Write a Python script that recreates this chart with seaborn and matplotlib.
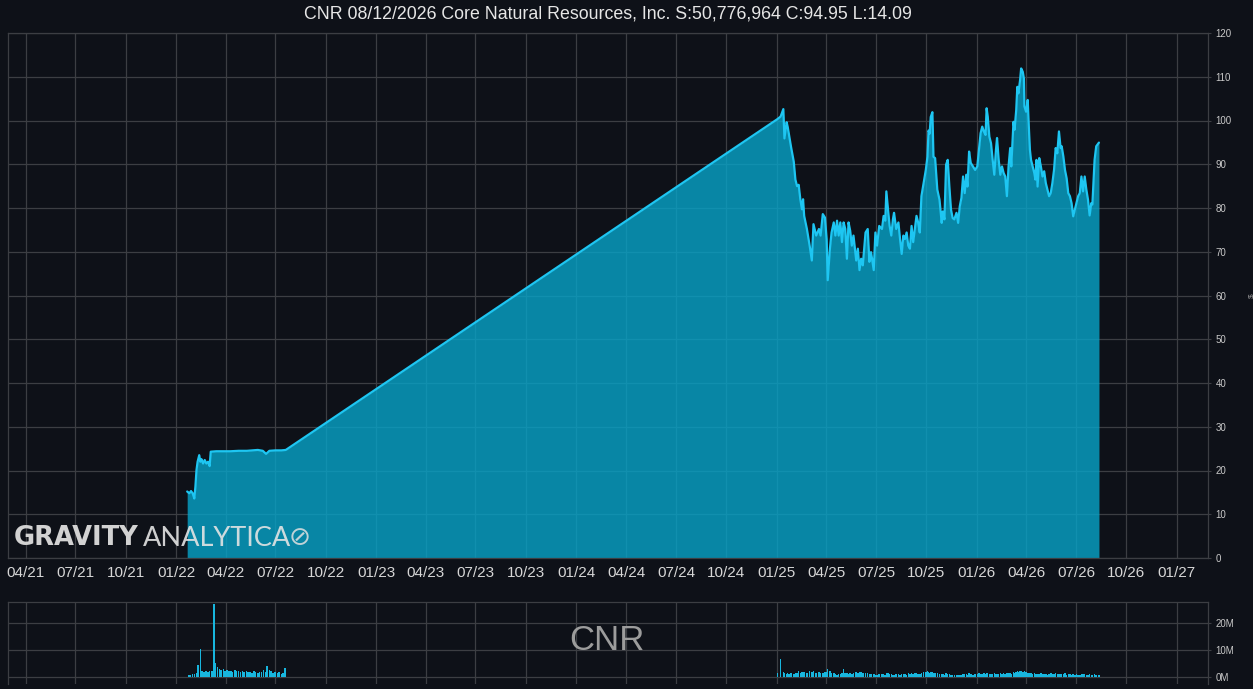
import matplotlib
matplotlib.use("Agg")
import matplotlib.pyplot as plt
import matplotlib.dates as mdates
import numpy as np
import pandas as pd
import seaborn as sns

# ---------------- data ----------------
seg1_dates = ["2022-01-21", "2022-01-25", "2022-01-28", "2022-01-31", "2022-02-03", "2022-02-05",
              "2022-02-07", "2022-02-09", "2022-02-12", "2022-02-14", "2022-02-16", "2022-02-19",
              "2022-02-22", "2022-02-25", "2022-02-28", "2022-03-03", "2022-03-05", "2022-03-15",
              "2022-03-28", "2022-04-10", "2022-04-25", "2022-05-10", "2022-05-20", "2022-05-30",
              "2022-06-08", "2022-06-14", "2022-06-20", "2022-07-01", "2022-07-12", "2022-07-20"]
seg1_price = [15.2, 14.8, 15.3, 14.8, 13.6, 16.3, 20.1, 22.0, 23.5, 22.0, 22.6, 21.6,
              22.4, 21.6, 22.0, 21.0, 24.3, 24.4, 24.4, 24.4, 24.5, 24.5, 24.6, 24.7,
              24.5, 23.8, 24.5, 24.6, 24.6, 24.7]

seg2_dates = [
    # 2025
    "2025-01-02", "2025-01-08", "2025-01-13", "2025-01-15", "2025-01-19", "2025-01-21", "2025-01-23", "2025-01-27",
    "2025-02-01", "2025-02-04", "2025-02-07", "2025-02-10", "2025-02-13", "2025-02-16", "2025-02-18", "2025-02-20", "2025-02-25",
    "2025-03-02", "2025-03-06", "2025-03-09", "2025-03-14", "2025-03-19", "2025-03-22", "2025-03-26", "2025-03-30",
    "2025-04-02", "2025-04-04", "2025-04-08", "2025-04-11", "2025-04-15", "2025-04-18", "2025-04-21", "2025-04-24", "2025-04-27", "2025-04-30",
    "2025-05-03", "2025-05-06", "2025-05-09", "2025-05-12", "2025-05-15", "2025-05-18", "2025-05-21", "2025-05-26", "2025-05-29",
    "2025-06-01", "2025-06-04", "2025-06-07", "2025-06-12", "2025-06-16", "2025-06-19", "2025-06-22", "2025-06-27", "2025-06-30",
    "2025-07-03", "2025-07-07", "2025-07-12", "2025-07-15", "2025-07-18", "2025-07-20", "2025-07-23", "2025-07-26", "2025-07-29",
    "2025-08-01", "2025-08-03", "2025-08-07", "2025-08-11", "2025-08-14", "2025-08-17", "2025-08-20", "2025-08-23", "2025-08-26", "2025-08-29",
    "2025-09-01", "2025-09-04", "2025-09-07", "2025-09-10", "2025-09-13", "2025-09-16", "2025-09-19", "2025-09-22", "2025-09-26", "2025-09-30",
    "2025-10-03", "2025-10-05", "2025-10-07", "2025-10-09", "2025-10-12", "2025-10-14", "2025-10-17", "2025-10-21", "2025-10-25", "2025-10-29", "2025-10-31",
    "2025-11-03", "2025-11-06", "2025-11-09", "2025-11-12", "2025-11-15", "2025-11-18", "2025-11-21", "2025-11-25", "2025-11-28",
    "2025-12-01", "2025-12-04", "2025-12-07", "2025-12-10", "2025-12-13", "2025-12-15", "2025-12-18", "2025-12-21", "2025-12-25", "2025-12-29",
    # 2026
    "2026-01-02", "2026-01-05", "2026-01-08", "2026-01-11", "2026-01-14", "2026-01-17", "2026-01-19", "2026-01-21", "2026-01-24", "2026-01-27", "2026-01-30",
    "2026-02-02", "2026-02-05", "2026-02-07", "2026-02-10", "2026-02-13", "2026-02-16", "2026-02-19", "2026-02-22", "2026-02-25", "2026-02-28",
    "2026-03-03", "2026-03-05", "2026-03-09", "2026-03-11", "2026-03-14", "2026-03-16", "2026-03-18", "2026-03-21", "2026-03-23", "2026-03-26", "2026-03-28", "2026-03-29",
    "2026-04-01", "2026-04-04", "2026-04-06", "2026-04-08", "2026-04-10", "2026-04-13", "2026-04-16", "2026-04-18", "2026-04-20", "2026-04-22", "2026-04-25", "2026-04-28",
    "2026-05-01", "2026-05-04", "2026-05-07", "2026-05-10", "2026-05-13", "2026-05-16", "2026-05-19", "2026-05-22", "2026-05-25", "2026-05-28", "2026-05-31",
    "2026-06-03", "2026-06-05", "2026-06-08", "2026-06-11", "2026-06-14", "2026-06-17", "2026-06-20", "2026-06-23", "2026-06-26", "2026-06-29",
    "2026-07-02", "2026-07-05", "2026-07-08", "2026-07-11", "2026-07-14", "2026-07-17", "2026-07-20", "2026-07-23", "2026-07-26", "2026-07-29", "2026-07-31",
    "2026-08-04", "2026-08-07", "2026-08-12",
]
seg2_price = [
    100.3, 100.9, 102.6, 95.9, 99.6, 98.5, 97.0, 94.0,
    90.6, 86.5, 85.0, 85.3, 82.0, 79.7, 82.0, 78.2, 75.2,
    71.4, 68.0, 76.3, 73.7, 75.2, 73.7, 78.6, 77.8,
    72.9, 63.5, 70.7, 74.4, 76.7, 73.7, 77.1, 73.7, 76.7, 72.2,
    76.7, 75.2, 68.4, 76.7, 74.8, 71.4, 73.7, 68.0, 70.7,
    65.8, 68.4, 66.9, 74.4, 75.2, 67.7, 69.9, 65.8, 74.4,
    71.4, 75.9, 75.2, 78.2, 77.1, 83.8, 79.7, 75.9, 73.7,
    77.4, 78.9, 75.2, 76.7, 72.9, 69.5, 73.7, 72.9, 74.4, 71.4,
    70.7, 75.9, 72.2, 75.2, 78.2, 76.7, 74.4, 82.7, 85.7, 88.7,
    91.7, 97.7, 97.0, 100.8, 101.9, 91.7, 91.4, 84.2, 81.9, 76.6, 79.2,
    77.4, 89.9, 91.0, 84.9, 79.6, 77.7, 77.4, 78.9, 76.6,
    80.4, 82.3, 87.2, 83.4, 87.6, 84.9, 92.9, 90.3, 89.5, 88.7,
    89.5, 93.3, 97.1, 98.6, 97.5, 96.7, 102.8, 100.9, 96.3, 94.8, 91.0,
    87.6, 93.3, 96.0, 91.0, 87.6, 89.5, 88.0, 87.2, 82.7, 89.5,
    93.7, 89.5, 99.7, 97.9, 102.4, 107.7, 106.2, 109.2, 111.9, 111.1, 109.6, 103.2,
    102.0, 104.7, 98.6, 93.3, 91.0, 89.5, 88.0, 86.5, 91.0, 84.9, 91.4, 89.5,
    87.2, 88.4, 85.7, 84.2, 82.7, 83.4, 85.7, 88.7, 93.7, 92.5, 97.5,
    93.7, 94.1, 91.8, 88.7, 86.8, 83.4, 82.7, 81.1, 78.1, 79.6,
    81.1, 82.7, 83.4, 87.2, 83.8, 87.2, 84.2, 81.9, 78.3, 81.1, 80.8,
    91.0, 94.1, 94.95,
]

vol1_dates = ["2022-01-24", "2022-01-27", "2022-01-31", "2022-02-03", "2022-02-07", "2022-02-10", "2022-02-14",
              "2022-02-17", "2022-02-21", "2022-02-24", "2022-02-28", "2022-03-03", "2022-03-07", "2022-03-10",
              "2022-03-11", "2022-03-14", "2022-03-17", "2022-03-21", "2022-03-24", "2022-03-28", "2022-03-31",
              "2022-04-04", "2022-04-07", "2022-04-11", "2022-04-14", "2022-04-18", "2022-04-21", "2022-04-25",
              "2022-04-28", "2022-05-02", "2022-05-05", "2022-05-09", "2022-05-12", "2022-05-16", "2022-05-19",
              "2022-05-23", "2022-05-26", "2022-05-30", "2022-06-02", "2022-06-06", "2022-06-09", "2022-06-13",
              "2022-06-16", "2022-06-20", "2022-06-23", "2022-06-27", "2022-06-30", "2022-07-05", "2022-07-08",
              "2022-07-12", "2022-07-15", "2022-07-19"]
vol1_m = [0.6, 0.8, 1.0, 1.2, 1.6, 4.6, 10.5,
          2.2, 2.0, 2.4, 2.0, 2.3, 2.2, 2.8,
          27.0, 5.2, 3.8, 3.0, 2.6, 2.8, 2.4,
          2.6, 2.2, 2.4, 2.0, 2.5, 2.1, 2.3,
          1.8, 2.2, 1.9, 2.4, 1.7, 2.0, 1.6,
          2.1, 1.8, 1.5, 2.0, 1.7, 2.6, 1.9,
          4.0, 2.6, 2.2, 1.4, 2.0, 1.3, 1.8,
          1.2, 1.6, 3.2]

vol2_m = [
    1.5, 6.7, 2.0, 1.6, 1.2, 1.4, 1.1, 1.3,
    1.2, 1.5, 1.3, 2.3, 1.6, 1.9, 1.4, 1.8, 1.5,
    2.1, 1.7, 2.2, 1.6, 1.8, 1.4, 1.5, 1.9,
    2.0, 2.8, 2.3, 1.6, 1.3, 1.1, 0.9, 1.2, 1.0, 1.4,
    2.9, 1.4, 1.6, 1.2, 1.3, 1.0, 1.5, 1.7, 1.6,
    1.8, 1.7, 1.5, 1.6, 1.3, 1.2, 1.0, 1.1, 0.9,
    0.8, 1.0, 1.1, 1.2, 0.9, 1.6, 1.3, 1.1, 1.0,
    0.9, 0.8, 1.1, 1.0, 0.9, 1.2, 1.0, 1.1, 0.9, 1.3,
    1.2, 1.5, 1.1, 1.3, 1.4, 1.2, 1.1, 1.6, 1.8, 1.7,
    2.2, 1.9, 1.6, 2.0, 1.8, 1.5, 1.3, 1.4, 1.2, 1.0, 1.1,
    0.9, 1.3, 1.1, 1.0, 0.8, 0.9, 0.7, 0.8, 0.9,
    0.8, 0.9, 1.1, 1.0, 1.2, 0.9, 1.3, 1.1, 0.9, 1.0,
    1.1, 1.4, 1.2, 1.0, 1.3, 1.1, 1.6, 1.4, 1.2, 1.1, 1.0,
    1.3, 1.1, 1.0, 1.2, 1.4, 1.1, 1.3, 1.2, 1.5, 1.3,
    1.4, 1.2, 1.8, 1.6, 2.0, 2.2, 1.9, 2.1, 2.4, 1.8, 1.5, 2.2,
    1.7, 1.3, 1.5, 1.2, 1.4, 1.1, 1.3, 1.2, 1.0, 1.2, 1.1, 1.3,
    1.0, 1.2, 1.1, 0.9, 1.0, 1.3, 1.1, 1.2, 1.4, 1.1, 1.0,
    1.2, 1.0, 1.1, 1.3, 0.9, 1.0, 1.1, 0.8, 1.0, 0.9,
    1.0, 0.8, 0.9, 1.1, 1.0, 1.2, 0.9, 0.8, 1.0, 0.9, 0.8,
    1.1, 0.9, 0.8,
]

title_text = "CNR 08/12/2026 Core Natural Resources, Inc. S:50,776,964 C:94.95 L:14.09"
price_ticks = list(range(0, 121, 10))
vol_ticks = [0, 10, 20]
vol_tick_labels = ["0M", "10M", "20M"]

# ---------------- style ----------------
BG = "#0e1118"
GRID = "#3c3e43"
LINE = "#1ec6f2"
FILL = "#07a4ca"
VOLC = "#18b6de"
REG = ["Liberation Sans", "DejaVu Sans"]

sns.set_theme(style="dark")
plt.rcParams["font.family"] = REG
plt.rcParams["axes.facecolor"] = BG
plt.rcParams["figure.facecolor"] = BG

price_df = pd.DataFrame({
    "date": pd.to_datetime(seg1_dates + seg2_dates),
    "price": seg1_price + seg2_price,
})
n2 = min(len(seg2_dates), len(vol2_m))
vol_df = pd.DataFrame({
    "date": pd.to_datetime(vol1_dates + seg2_dates[:n2]),
    "vol": vol1_m + vol2_m[:n2],
})

W, H = 1253, 689
fig = plt.figure(figsize=(W / 100, H / 100), dpi=100, facecolor=BG)
ax = fig.add_axes([8 / W, 1 - 558 / H, 1200 / W, 525 / H])
axv = fig.add_axes([8 / W, 1 - 684 / H, 1200 / W, 82 / H])

xmin, xmax = pd.Timestamp("2021-02-28"), pd.Timestamp("2027-02-27")

for a in (ax, axv):
    a.set_facecolor(BG)
    a.set_axisbelow(True)
    a.grid(True, color=GRID, linewidth=0.9)
    for s in a.spines.values():
        s.set_color(GRID)
        s.set_linewidth(0.9)
    a.xaxis.set_major_locator(mdates.MonthLocator(bymonth=[1, 4, 7, 10]))
    a.xaxis.set_major_formatter(mdates.DateFormatter("%m/%y"))
    a.set_xlim(xmin, xmax)
    a.yaxis.tick_right()
    a.tick_params(axis="y", labelsize=7, colors="#c9c9c9", length=2.5, width=0.8, pad=3)
    a.tick_params(axis="y", color=GRID)
    a.tick_params(axis="x", length=0)

# main price area
ax.fill_between(price_df["date"], price_df["price"], 0, color=FILL, alpha=0.8,
                linewidth=0, zorder=1.5)
sns.lineplot(data=price_df, x="date", y="price", ax=ax, color=LINE, linewidth=1.6,
             estimator=None, sort=True, zorder=2)
ax.set_ylim(0, 120)
ax.set_yticks(price_ticks)
ax.set_xlabel("")
ax.set_ylabel("$", fontsize=6, color="#9a9a9a", rotation=90, labelpad=12)
ax.yaxis.set_label_position("right")
ax.tick_params(axis="x", labelsize=11, colors="#d6d6d6", pad=6)

# volume panel
axv.bar(vol_df["date"], vol_df["vol"], width=2.8, color=VOLC, linewidth=0, zorder=2)
axv.set_ylim(-2.6, 27.8)
axv.set_yticks(vol_ticks)
axv.set_yticklabels(vol_tick_labels)
axv.tick_params(axis="x", labelbottom=False)
axv.spines["bottom"].set_visible(False)

# texts
fig.text(608 / W, 1 - 14 / H, title_text, ha="center", va="center", fontsize=12.8,
         color="#e6e6e6", family=REG)
fig.text(607 / W, 1 - 641 / H, "CNR", ha="center", va="center", fontsize=25,
         color="#9c9c9c", family=REG)
fig.text(14 / W, 1 - 538 / H, "GRAVITY", ha="left", va="center", fontsize=18.5,
         fontweight="bold", color="#d2d2d2", family=["DejaVu Sans"])
fig.text(143 / W, 1 - 538 / H, "ANALYTICA", ha="left", va="center", fontsize=19.5,
         fontweight="normal", color="#e4e4e4", family=["Lato", "DejaVu Sans"], alpha=0.9)
fig.text(300 / W, 1 - 538 / H, "\u2298", ha="center", va="center", fontsize=19,
         color="#e0e0e0", family=["DejaVu Sans"], alpha=0.85)

fig.savefig("out.png", dpi=100, facecolor=BG)
